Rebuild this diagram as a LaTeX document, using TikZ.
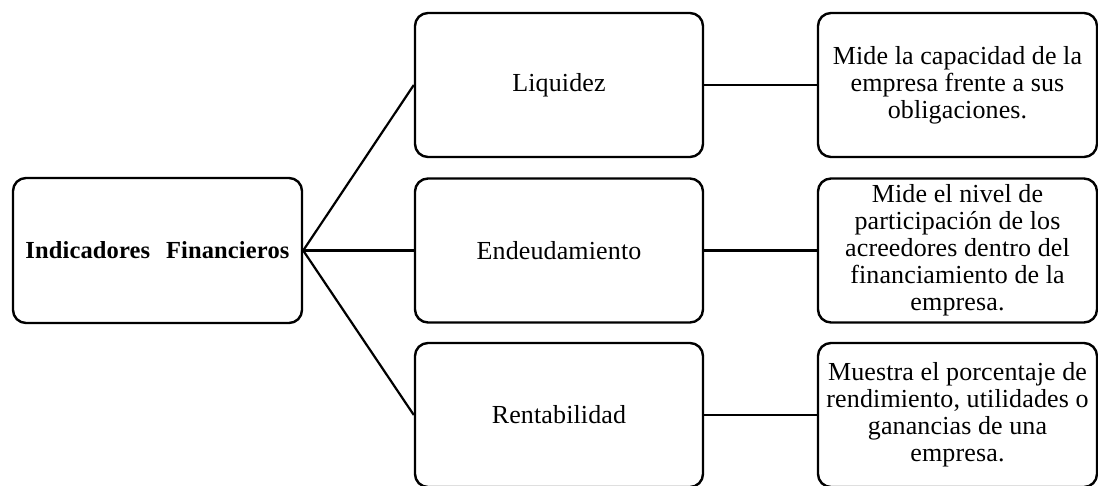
\documentclass[tikz,border=0pt]{standalone}
\usepackage{fontspec}
\setmainfont{Liberation Serif}[LetterSpace=0.5]
\tikzset{
  box/.style={draw, line width=2.4pt, rounded corners=13pt, align=center,
    inner sep=0pt, font=\fontsize{26}{27}\selectfont},
  leftbox/.style={box, minimum width=289pt, minimum height=145pt,
    font=\fontsize{24.5}{27}\selectfont},
  midbox/.style={box, minimum width=288pt, minimum height=144pt},
  rightbox/.style={box, minimum width=279pt, minimum height=144pt},
  link/.style={line width=2.2pt}
}
\begin{document}
\begin{tikzpicture}[x=1pt,y=1pt]
\useasboundingbox (0,0) rectangle (1098,-485);
\node[leftbox] (ind) at (157.5,-250.5) {\textbf{Indicadores\hspace{16pt}Financieros}};
\node[midbox] (liq) at (559,-85) {Liquidez};
\node[midbox] (end) at (559,-250.5) {Endeudamiento};
\node[midbox] (ren) at (559,-415) {Rentabilidad};
\node[rightbox] (d1) at (957.5,-85) {Mide la capacidad de la\\empresa frente a sus\\obligaciones.};
\node[rightbox] (d2) at (957.5,-250.5) {Mide el nivel de\\participación de los\\acreedores dentro del\\financiamiento de la\\empresa.};
\node[rightbox] (d3) at (957.5,-415) {Muestra el porcentaje de\\rendimiento, utilidades o\\ganancias de una\\empresa.};
\draw[link] (ind.east) -- (liq.west);
\draw[link] (ind.east) -- (end.west);
\draw[link] (ind.east) -- (ren.west);
\draw[link] (liq.east) -- (d1.west);
\draw[link] (end.east) -- (d2.west);
\draw[link] (ren.east) -- (d3.west);
\end{tikzpicture}
\end{document}
